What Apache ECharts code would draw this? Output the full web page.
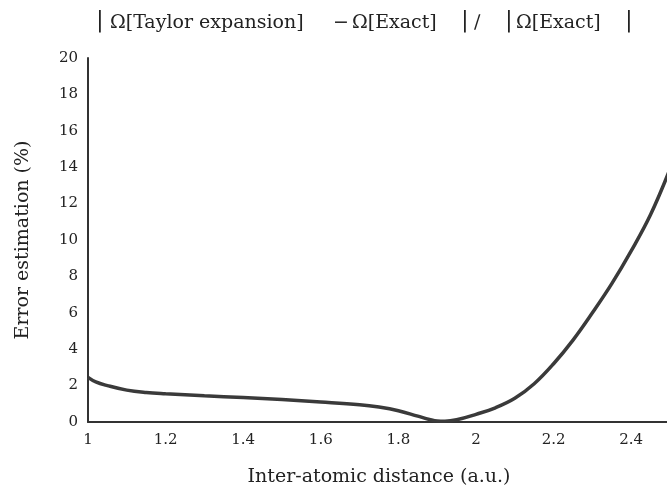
<!DOCTYPE html>
<html>
<head>
<meta charset="utf-8">
<script src="https://cdn.jsdelivr.net/npm/echarts@6/dist/echarts.min.js"></script>
<style>
  html, body { margin: 0; padding: 0; background: #fff; }
  #chart { width: 667px; height: 489px; }
</style>
</head>
<body>
<div id="chart"></div>
<script>
// inter-atomic distance (a.u.)
const distance = [1.0, 1.02, 1.05, 1.1, 1.15, 1.2, 1.3, 1.4, 1.5, 1.6, 1.7, 1.75, 1.8, 1.85, 1.88,
  1.9, 1.92, 1.95, 2.0, 2.05, 2.1, 2.15, 2.2, 2.25, 2.3, 2.35, 2.4, 2.45, 2.5];
// error estimation (%)
const errorPct = [2.45, 2.2, 2.0, 1.75, 1.62, 1.55, 1.44, 1.34, 1.23, 1.1, 0.95, 0.82, 0.62, 0.32, 0.14,
  0.05, 0.04, 0.12, 0.42, 0.78, 1.3, 2.1, 3.2, 4.5, 6.0, 7.6, 9.4, 11.4, 13.9];

// title pieces: |Ω[Taylor expansion] − Ω[Exact]| / |Ω[Exact]|
const titleParts = ['|', 'Ω[Taylor expansion]', '−', 'Ω[Exact]', '|', '∕', '|', 'Ω[Exact]', '|'];
const titleLeft = [96, 110, 333, 352, 461, 474, 505, 516, 625];

const font = '"DejaVu Serif", "Liberation Serif", serif';
const chart = echarts.init(document.getElementById('chart'));

chart.setOption({
  backgroundColor: '#fff',
  animation: false,
  title: titleParts.map((t, i) => ({
    text: t,
    left: titleLeft[i],
    top: t === '|' ? 10 : 14,
    padding: 0,
    textStyle: {
      fontFamily: font,
      fontSize: t === '|' ? 23 : 19,
      fontWeight: 'normal',
      color: '#222'
    }
  })),
  grid: { left: 88, top: 58, width: 582, height: 364, outerBoundsMode: 'none' },
  xAxis: {
    type: 'value',
    min: 1,
    max: 2.5,
    interval: 0.2,
    name: 'Inter-atomic distance (a.u.)',
    nameLocation: 'middle',
    nameGap: 46,
    nameTextStyle: { fontFamily: font, fontSize: 19, color: '#222' },
    axisLine: { lineStyle: { color: '#333', width: 2 } },
    axisTick: { show: false },
    splitLine: { show: false },
    axisLabel: { fontFamily: font, fontSize: 15, color: '#222', margin: 11, showMaxLabel: false }
  },
  yAxis: {
    type: 'value',
    min: 0,
    max: 20,
    interval: 2,
    name: 'Error estimation (%)',
    nameLocation: 'middle',
    nameGap: 55,
    nameTextStyle: { fontFamily: font, fontSize: 19, color: '#222' },
    axisLine: { show: true, lineStyle: { color: '#333', width: 2 } },
    axisTick: { show: false },
    splitLine: { show: false },
    axisLabel: { fontFamily: font, fontSize: 15, color: '#222', margin: 10 }
  },
  series: [{
    type: 'line',
    data: distance.map((d, i) => [d, errorPct[i]]),
    smooth: 0.4,
    showSymbol: false,
    lineStyle: { color: '#3a3a3a', width: 3.5 }
  }]
});
</script>
</body>
</html>
